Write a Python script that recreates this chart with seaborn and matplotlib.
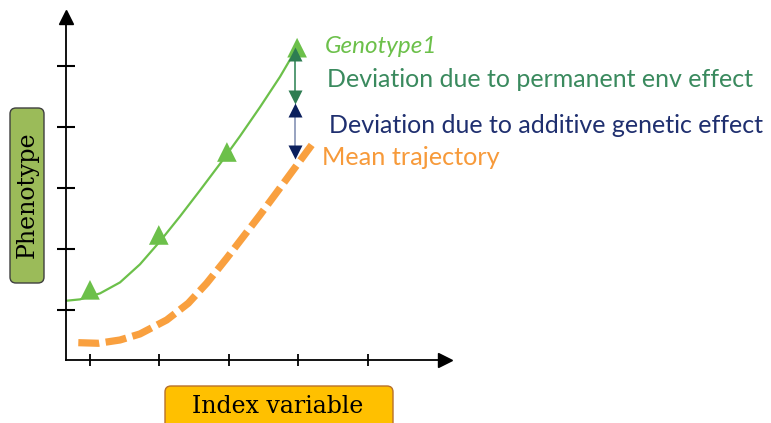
import matplotlib
matplotlib.use("Agg")
import matplotlib.pyplot as plt
from matplotlib.patches import FancyBboxPatch
import seaborn as sns

# green genotype curve
geno_x = [0.665, 0.856, 1.144, 1.432, 1.719, 2.007, 2.295, 2.583, 2.871,
          3.158, 3.446, 3.734, 3.964]
geno_y = [1.152, 1.174, 1.272, 1.452, 1.748, 2.125, 2.534, 2.961, 3.397,
          3.849, 4.325, 4.823, 5.27]

# observed records along the genotype curve
obs_x = [1.0, 1.99, 2.97, 3.98]
obs_y = [1.33, 2.23, 3.59, 5.30]

# mean trajectory (dashed)
mean_x = [0.832, 1.119, 1.432, 1.719, 2.104, 2.414, 2.679, 2.967, 3.206,
          3.446, 3.686, 3.925, 4.190]
mean_y = [0.464, 0.454, 0.508, 0.607, 0.836, 1.110, 1.438, 1.848, 2.202,
          2.557, 2.926, 3.295, 3.705]

# deviation arrows at one time point
dev_x = 3.95
perm_env = [5.20, 4.49]
additive = [4.28, 3.59]

ticks = [1, 2, 3, 4, 5]

labels = ["Genotype1",
          "Deviation due to permanent env effect",
          "Deviation due to additive genetic effect",
          "Mean trajectory"]

sns.set_style("white")
plt.rcParams['font.family'] = ['Lato', 'DejaVu Sans']

fig = plt.figure(figsize=(7.71, 4.23), dpi=100)
ax = fig.add_axes([66 / 771, 63 / 423, 379 / 771, 343 / 423])

sns.lineplot(x=mean_x, y=mean_y, ax=ax, color="#F9A03F", linewidth=5.2,
             sort=False, linestyle=(0, (2.9, 0.9)), solid_capstyle="butt")
sns.lineplot(x=geno_x, y=geno_y, ax=ax, color="#6CC04A", linewidth=1.6, sort=False)
sns.scatterplot(x=obs_x, y=obs_y, ax=ax, marker="^", s=200, color="#6CC04A",
                edgecolor="none", zorder=4)

# arrows
ax.plot([dev_x, dev_x], perm_env, color="#3A8A5E", lw=1.2, zorder=5)
ax.plot([dev_x], [perm_env[0]], marker="^", ms=9.5, color="#2E7D52", mec="none", zorder=6)
ax.plot([dev_x], [perm_env[1]], marker="v", ms=9.5, color="#2E7D52", mec="none", zorder=6)
ax.plot([dev_x, dev_x], additive, color="#8592B5", lw=1.2, zorder=5)
ax.plot([dev_x], [additive[0]], marker="^", ms=9.5, color="#0B1F5C", mec="none", zorder=6)
ax.plot([dev_x], [additive[1]], marker="v", ms=9.5, color="#0B1F5C", mec="none", zorder=6)

ax.set_xlim(0.655, 6.108)
ax.set_ylim(0.18, 5.803)
ax.set_xticks(ticks)
ax.set_yticks(ticks)
ax.set_xticklabels([])
ax.set_yticklabels([])
ax.tick_params(axis="x", direction="inout", length=9, width=1.3, color="black", bottom=True)
ax.tick_params(axis="y", direction="inout", length=13, width=1.5, color="black", left=True)
for s in ["top", "right"]:
    ax.spines[s].set_visible(False)
for s in ["left", "bottom"]:
    ax.spines[s].set_color("black")
    ax.spines[s].set_linewidth(1.3)
ax.patch.set_alpha(0)

# axis arrowheads
ax.plot(1, 0, ">k", ms=10, transform=ax.transAxes, clip_on=False)
ax.plot(0, 1, "^k", ms=10, transform=ax.transAxes, clip_on=False)

# labels on the right
ax.text(4.381, 5.213, labels[0], color="#6CC04A", fontsize=17.5, style="italic",
        va="baseline", clip_on=False)
ax.text(4.410, 4.656, labels[1], color="#3A8A5E", fontsize=18,
        va="baseline", clip_on=False)
ax.text(4.439, 3.902, labels[2], color="#1F2F6F", fontsize=18,
        va="baseline", clip_on=False)
ax.text(4.338, 3.377, labels[3], color="#F79A3A", fontsize=18.2,
        va="baseline", clip_on=False)

# axis title boxes
fig.add_artist(FancyBboxPatch((0.10, 1.40), 0.34, 1.75, transform=fig.dpi_scale_trans,
                              boxstyle="round,pad=0,rounding_size=0.06",
                              fc="#9BBB59", ec="#3F3F3F", lw=1.0))
fig.text(0.27, 2.28, "Phenotype", transform=fig.dpi_scale_trans, rotation=90,
         ha="center", va="center", fontsize=17, family="DejaVu Serif", color="black")
fig.add_artist(FancyBboxPatch((1.65, -0.3), 2.28, 0.67, transform=fig.dpi_scale_trans,
                              boxstyle="round,pad=0,rounding_size=0.06",
                              fc="#FFC000", ec="#B8702A", lw=1.0))
fig.text(2.78, 0.17, "Index variable", transform=fig.dpi_scale_trans,
         ha="center", va="center", fontsize=17, family="DejaVu Serif", color="black")

fig.savefig("out.png", dpi=100)
